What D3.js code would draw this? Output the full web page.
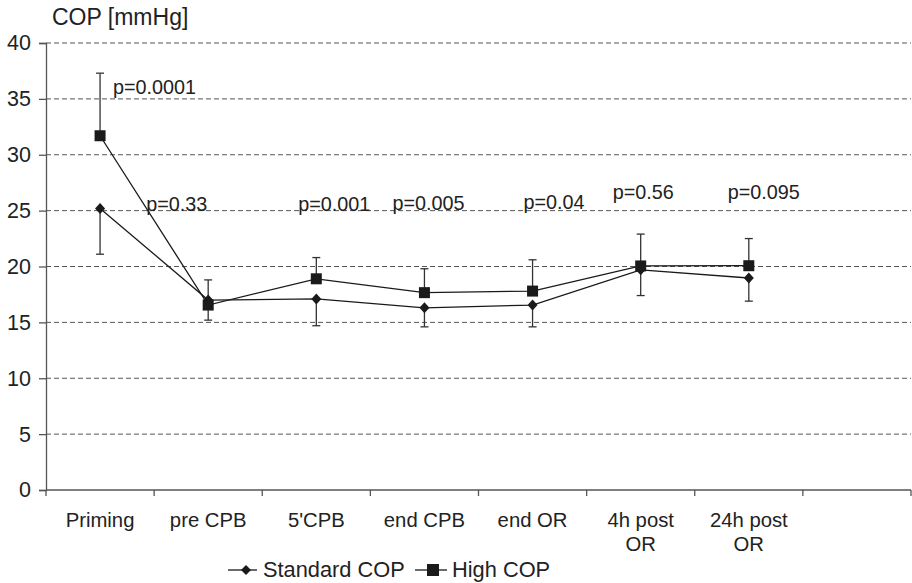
<!DOCTYPE html>
<html>
<head>
<meta charset="utf-8">
<script src="https://cdn.jsdelivr.net/npm/d3@7"></script>
<style>
  html, body { margin: 0; padding: 0; background: #fff; }
  svg { display: block; font-family: "Liberation Sans", Arial, sans-serif; }
</style>
</head>
<body>
<svg id="chart" width="912" height="583"></svg>
<script>
// Time points (last slot of the category axis is left empty)
const categories = ["Priming", "pre CPB", "5'CPB", "end CPB", "end OR", "4h post\nOR", "24h post\nOR", ""];
// Mean colloid osmotic pressure per group (mmHg)
const standardCOP = [25.2, 17.0, 17.1, 16.3, 16.55, 19.7, 18.97];
const highCOP     = [31.7, 16.55, 18.9, 17.66, 17.8, 20.05, 20.07];
// Lower error bar end for Standard COP, upper error bar end for High COP
const standardLow = [21.1, 15.2, 14.7, 14.6, 14.6, 17.4, 16.9];
const highHigh    = [37.3, 18.8, 20.8, 19.8, 20.6, 22.9, 22.5];
// p-values between groups at each time point
const pLabels = ["p=0.0001", "p=0.33", "p=0.001", "p=0.005", "p=0.04", "p=0.56", "p=0.095"];
const pLabelY = [35.45, 25.0, 25.0, 25.05, 25.15, 26.05, 26.05];
const yTicks = [0, 5, 10, 15, 20, 25, 30, 35, 40];

const svg = d3.select("#chart");
const m = { left: 46, right: 1, top: 43, bottom: 93 };
const W = 912, H = 583;

const x = d3.scaleBand().domain(d3.range(categories.length)).range([m.left, W - m.right]);
const y = d3.scaleLinear().domain([0, 40]).range([H - m.bottom, m.top]);
const cx = i => x(i) + x.bandwidth() / 2;

// Dashed horizontal grid
svg.append("g").selectAll("line").data(yTicks.filter(d => d > 0)).join("line")
  .attr("x1", m.left).attr("x2", W - m.right)
  .attr("y1", d => y(d)).attr("y2", d => y(d))
  .attr("stroke", "#555").attr("stroke-width", 1).attr("stroke-dasharray", "5,3");

// Y axis
const yAxis = svg.append("g").attr("transform", `translate(${m.left},0)`)
  .call(d3.axisLeft(y).tickValues(yTicks).tickSize(7).tickPadding(8));
yAxis.select(".domain").attr("stroke", "#555").attr("stroke-width", 1.3);
yAxis.selectAll(".tick line").attr("stroke", "#555").attr("stroke-width", 1.3);
yAxis.selectAll(".tick text").attr("font-size", 21.5).attr("fill", "#222")
  .attr("font-family", "Liberation Sans, Arial, sans-serif");

// X axis with ticks at category boundaries
const xg = svg.append("g");
xg.append("line").attr("x1", m.left).attr("x2", W - m.right)
  .attr("y1", y(0)).attr("y2", y(0)).attr("stroke", "#555").attr("stroke-width", 1.3);
xg.selectAll("line.tk").data(d3.range(categories.length + 1)).join("line")
  .attr("class", "tk")
  .attr("x1", i => m.left + i * x.bandwidth()).attr("x2", i => m.left + i * x.bandwidth())
  .attr("y1", y(0)).attr("y2", y(0) + 6)
  .attr("stroke", "#555").attr("stroke-width", 1.3);
xg.selectAll("text").data(categories).join("text")
  .attr("x", (d, i) => cx(i)).attr("y", y(0) + 37)
  .attr("text-anchor", "middle").attr("font-size", 20.3).attr("fill", "#222")
  .each(function (d) {
    d.split("\n").forEach((t, k) => {
      d3.select(this).append("tspan").attr("x", d3.select(this).attr("x"))
        .attr("dy", k === 0 ? 0 : 24).text(t);
    });
  });

// Y axis title
svg.append("text").attr("x", 52).attr("y", 25).attr("font-size", 23).attr("fill", "#222")
  .text("COP [mmHg]");

const idx = d3.range(standardCOP.length);

// Error bars
function errorBars(vals, ends) {
  const g = svg.append("g").attr("stroke", "#333").attr("stroke-width", 1.3);
  g.selectAll("line.v").data(idx).join("line").attr("class", "v")
    .attr("x1", cx).attr("x2", cx)
    .attr("y1", i => y(vals[i])).attr("y2", i => y(ends[i]));
  g.selectAll("line.c").data(idx).join("line").attr("class", "c")
    .attr("x1", i => cx(i) - 4).attr("x2", i => cx(i) + 4)
    .attr("y1", i => y(ends[i])).attr("y2", i => y(ends[i]));
}
errorBars(standardCOP, standardLow);
errorBars(highCOP, highHigh);

// Series lines
const line = d3.line().x((d, i) => cx(i)).y(d => y(d));
[standardCOP, highCOP].forEach(s => {
  svg.append("path").attr("d", line(s)).attr("fill", "none")
    .attr("stroke", "#1a1a1a").attr("stroke-width", 1.3);
});

// Markers
svg.append("g").selectAll("path").data(idx).join("path")
  .attr("transform", i => `translate(${cx(i)},${y(standardCOP[i])})`)
  .attr("d", "M0,-5.5L5,0L0,5.5L-5,0Z").attr("fill", "#1a1a1a");
svg.append("g").selectAll("rect").data(idx).join("rect")
  .attr("x", i => cx(i) - 5.5).attr("y", i => y(highCOP[i]) - 5.5)
  .attr("width", 11).attr("height", 11).attr("fill", "#1a1a1a");

// p-value annotations
svg.append("g").selectAll("text").data(idx).join("text")
  .attr("x", i => cx(i) + [13, -62, -18, -32, -9, -28, -21][i])
  .attr("y", i => y(pLabelY[i]))
  .attr("font-size", 19.8).attr("fill", "#222").text(i => pLabels[i]);

// Legend
const lg = svg.append("g").attr("transform", "translate(0,570)");
lg.append("line").attr("x1", 228).attr("x2", 257).attr("y1", 0).attr("y2", 0)
  .attr("stroke", "#1a1a1a").attr("stroke-width", 1.3);
lg.append("path").attr("transform", "translate(246,0)")
  .attr("d", "M0,-5L5,0L0,5L-5,0Z").attr("fill", "#1a1a1a");
lg.append("text").attr("x", 263).attr("y", 6.5).attr("font-size", 21.8).attr("fill", "#222")
  .text("Standard COP");
lg.append("line").attr("x1", 415).attr("x2", 447).attr("y1", 0).attr("y2", 0)
  .attr("stroke", "#1a1a1a").attr("stroke-width", 1.3);
lg.append("rect").attr("x", 427).attr("y", -6).attr("width", 12).attr("height", 12)
  .attr("fill", "#1a1a1a");
lg.append("text").attr("x", 452).attr("y", 6.5).attr("font-size", 21.8).attr("fill", "#222")
  .text("High COP");
</script>
</body>
</html>
